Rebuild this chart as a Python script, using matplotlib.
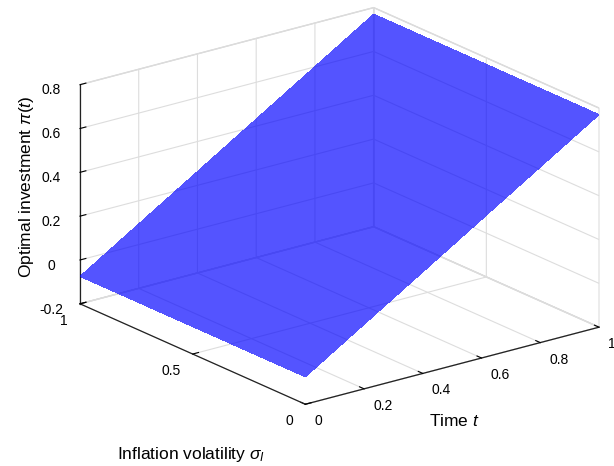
import numpy as np
import matplotlib
matplotlib.use('Agg')
import matplotlib.pyplot as plt
from mpl_toolkits.mplot3d import proj3d

plt.rcParams['font.family'] = ['Liberation Sans', 'DejaVu Sans']
plt.rcParams['mathtext.fontset'] = 'custom'
plt.rcParams['mathtext.rm'] = 'Liberation Sans'
plt.rcParams['mathtext.it'] = 'Liberation Sans:italic'

# values
time_t = [0.0, 1.0]
sigma_I = [0.0, 1.0]
# rows follow sigma_I, columns follow time_t
pi_t = [[-0.075, 0.77],
        [-0.075, 0.77]]

x_ticks = [0, 0.2, 0.4, 0.6, 0.8, 1]
x_labels = ['0', '0.2', '0.4', '0.6', '0.8', '1']
y_ticks = [0, 0.5, 1]
y_labels = ['0', '0.5', '1']
z_ticks = [-0.2, 0, 0.2, 0.4, 0.6, 0.8]
z_labels = ['-0.2', '0', '0.2', '0.4', '0.6', '0.8']

W, H = 614, 466
fig = plt.figure(figsize=(W / 100, H / 100), dpi=100)
ax = fig.add_axes([0.1, 0.1, 0.8, 0.8 * W / H], projection='3d', proj_type='ortho')

T, S = np.meshgrid(time_t, sigma_I)
Z = np.array(pi_t)
ax.plot_surface(T, S, Z, color=(0, 0, 1), alpha=0.67, linewidth=0,
                shade=False, antialiased=False)

ax.set_xlim(0, 1)
ax.set_ylim(0, 1)
ax.set_zlim(-0.2, 0.8)
ax.set_xticks(x_ticks)
ax.set_xticklabels([''] * len(x_ticks))
ax.set_yticks(y_ticks)
ax.set_yticklabels([''] * len(y_ticks))
ax.set_zticks(z_ticks)
ax.set_zticklabels(z_labels)
ax.tick_params(labelsize=10, colors='k')

for axis in (ax.xaxis, ax.yaxis, ax.zaxis):
    axis.set_pane_color((1, 1, 1, 1))
    axis.pane.set_edgecolor('#d4d4d4')
    axis._axinfo['grid'].update(color='#dddddd', linewidth=0.8)
    axis.line.set_color('#222222')
    axis.line.set_linewidth(0.9)
    axis._axinfo['tick']['inward_factor'] = 0.0
    axis._axinfo['tick']['outward_factor'] = 0.25

ax.view_init(elev=20, azim=-127.5)
ax.set_box_aspect((1, 1, 0.63))


def to_px(x, y, z):
    xs, ys, _ = proj3d.proj_transform(x, y, z, ax.get_proj())
    return ax.transData.transform((xs, ys))


# fit the box so its bottom-left and bottom-right corners land where the reference has them
fig.canvas.draw()
left_c = to_px(0, 1, -0.2)
right_c = to_px(1, 0, -0.2)
tgt_left = np.array([80, H - 303])
tgt_right = np.array([599, H - 328])
k = (tgt_right[0] - tgt_left[0]) / (right_c[0] - left_c[0])
bb = ax.get_position().transformed(fig.transFigure)
c = np.array([(bb.x0 + bb.x1) / 2, (bb.y0 + bb.y1) / 2])
mid = (left_c + right_c) / 2
new_c = (tgt_left + tgt_right) / 2 - k * (mid - c)
side = k * bb.width
ax.set_position([(new_c[0] - side / 2) / W, (new_c[1] - side / 2) / H, side / W, side / H])
fig.canvas.draw()

# tick labels placed the way MATLAB does: below-right for time, below-left for sigma
for tv, lab in zip(x_ticks, x_labels):
    px, py = to_px(tv, 0, -0.2)
    fig.text((px + 9) / W, (py - 17) / H, lab, ha='left', va='center', fontsize=10)
for sv, lab in zip(y_ticks, y_labels):
    px, py = to_px(0, sv, -0.2)
    fig.text((px - 12) / W, (py - 17) / H, lab, ha='right', va='center', fontsize=10)

fig.text(27 / W, 1 - 187 / H, 'Optimal investment $\\pi(t)$', rotation=90,
         ha='center', va='center', fontsize=12.5)
fig.text(454 / W, 1 - 421 / H, 'Time $t$', ha='center', va='center', fontsize=12.5)
fig.text(191 / W, 1 - 455 / H, 'Inflation volatility $\\sigma_I$', ha='center',
         va='center', fontsize=12.5)

fig.savefig('out.png', dpi=100)
